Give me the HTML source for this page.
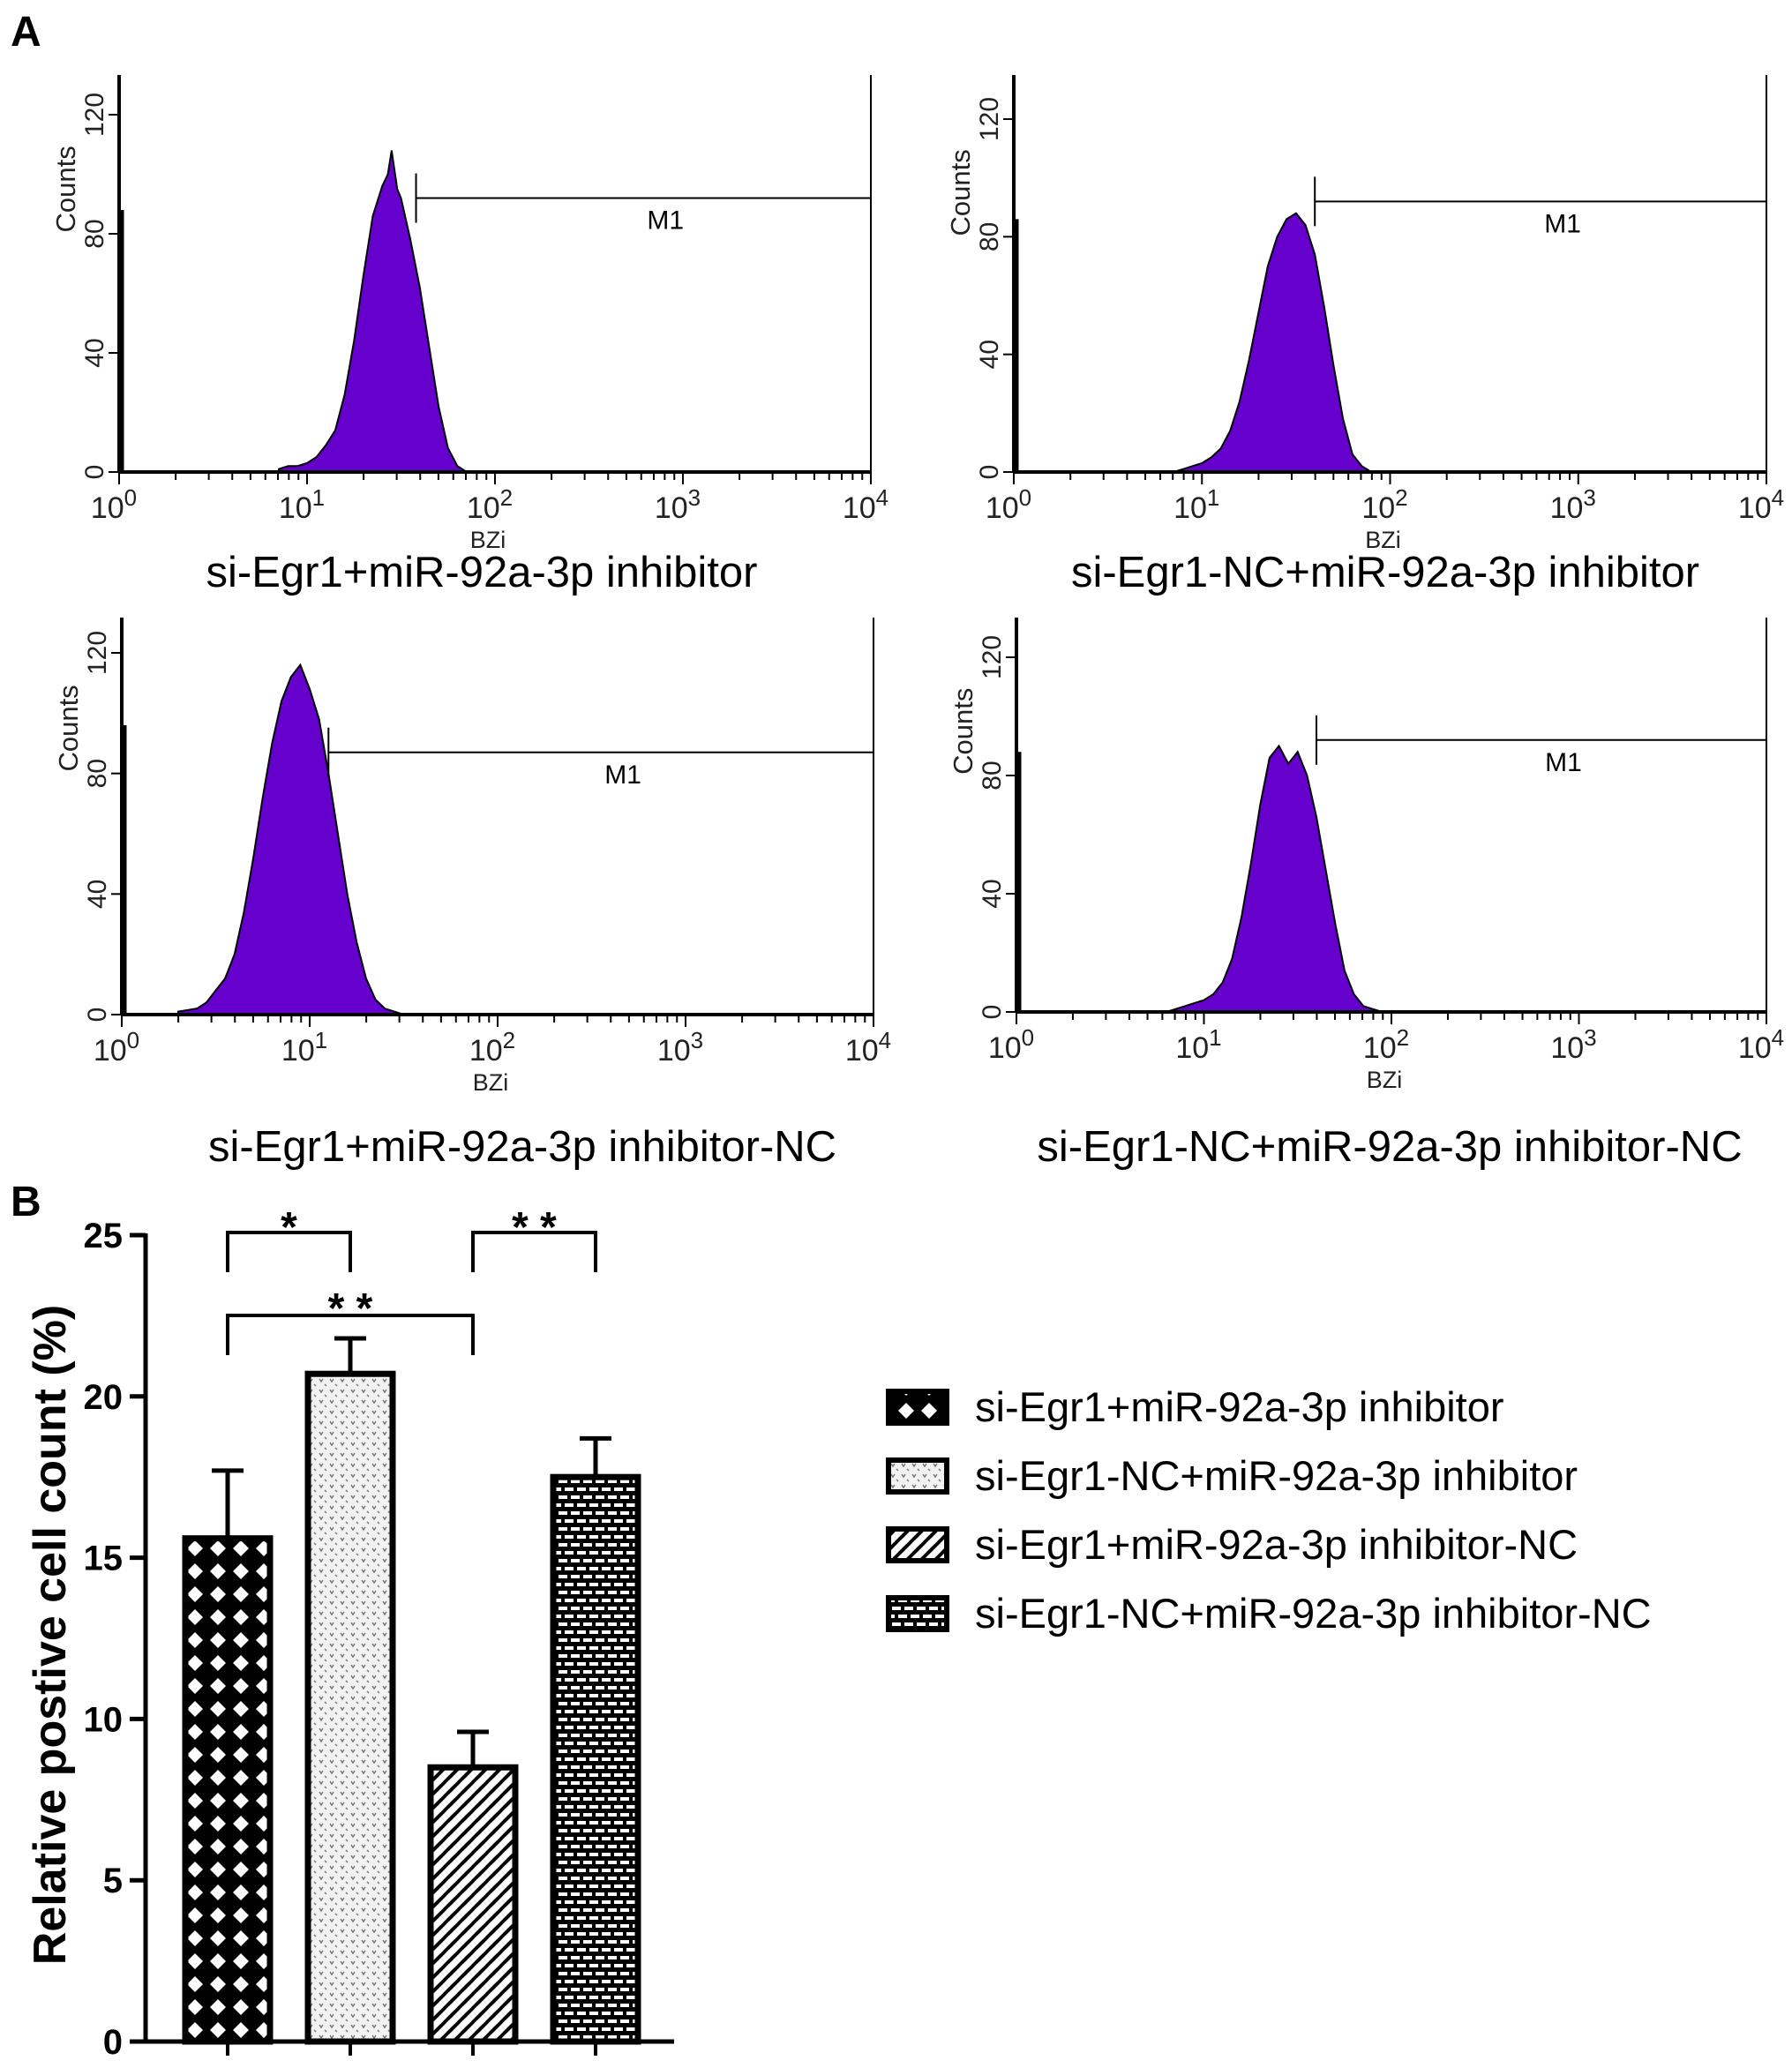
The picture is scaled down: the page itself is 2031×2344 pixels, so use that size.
<!DOCTYPE html>
<html><head><meta charset="utf-8"><style>
html,body{margin:0;padding:0;background:#fff;}
svg{display:block;font-family:"Liberation Sans",sans-serif;}
</style></head><body>
<svg id="fig" width="2031" height="2344" viewBox="0 0 2031 2344" xmlns="http://www.w3.org/2000/svg">
<defs>
<pattern id="pCross" width="26" height="26" patternUnits="userSpaceOnUse">
<rect width="26" height="26" fill="#000"/><polygon points="13,4 22,13 13,22 4,13" fill="#fff"/>
</pattern>
<pattern id="pDots" width="12" height="12" patternUnits="userSpaceOnUse">
<rect width="12" height="12" fill="#f2f2f2"/><path d="M2 3 l2 3 l2 -3 M8 9 l2 2" stroke="#777" stroke-width="1.5" fill="none"/>
</pattern>
<pattern id="pDiag" width="16" height="16" patternUnits="userSpaceOnUse">
<rect width="16" height="16" fill="#fff"/><path d="M-4 16 L16 -4 M4 24 L24 4" stroke="#000" stroke-width="4"/>
</pattern>
<pattern id="pBrick" width="28" height="18" patternUnits="userSpaceOnUse">
<rect width="28" height="18" fill="#000"/><rect x="3" y="3" width="10" height="4" fill="#fff"/><rect x="17" y="3" width="10" height="4" fill="#fff"/><rect x="-4" y="12" width="10" height="4" fill="#fff"/><rect x="10" y="12" width="10" height="4" fill="#fff"/><rect x="24" y="12" width="10" height="4" fill="#fff"/>
</pattern>
</defs>
<text x="12" y="52" font-size="48" font-weight="bold">A</text>
<text x="12" y="1378" font-size="48" font-weight="bold">B</text>
<g id="hists"></g>
<g id="bars"></g>
</svg>
<script>
// ---- Histogram data (log10 BZi, counts) ----
const h1x=[0.85,0.9,0.95,1.0,1.05,1.1,1.15,1.2,1.25,1.3,1.35,1.4,1.43,1.45,1.48,1.5,1.55,1.6,1.65,1.7,1.75,1.8,1.85];
const h1y=[1,2,2,3,5,9,14,26,44,66,86,96,100,108,95,92,78,62,42,22,8,2,0];
const h2x=[0.85,0.9,0.95,1.0,1.05,1.1,1.15,1.2,1.25,1.3,1.35,1.4,1.45,1.5,1.55,1.6,1.65,1.7,1.75,1.8,1.85,1.9];
const h2y=[0,1,2,3,5,8,14,24,38,54,70,80,86,88,84,74,56,36,18,6,2,0];
const h3x=[0.3,0.4,0.45,0.5,0.55,0.6,0.65,0.7,0.75,0.8,0.85,0.9,0.95,1.0,1.05,1.1,1.15,1.2,1.25,1.3,1.35,1.4,1.5];
const h3y=[1,2,4,8,12,20,34,52,72,90,104,112,116,108,98,80,60,40,24,12,5,2,0];
const h4x=[0.8,0.9,0.95,1.0,1.05,1.1,1.15,1.2,1.25,1.3,1.35,1.4,1.45,1.5,1.55,1.6,1.65,1.7,1.75,1.8,1.85,1.9,1.95];
const h4y=[0,2,3,4,6,10,18,32,50,70,86,90,84,88,80,66,48,30,14,6,2,1,0];
const spikes=[88,86,96,88];
const tickLabels=["0","40","80","120"];
const titles=["si-Egr1+miR-92a-3p inhibitor","si-Egr1-NC+miR-92a-3p inhibitor","si-Egr1+miR-92a-3p inhibitor-NC","si-Egr1-NC+miR-92a-3p inhibitor-NC"];
const gates=[1.58,1.6,1.1,1.6];
const gateY=[92,92,87,92];

// ---- Bar chart data ----
const groups=["si-Egr1+miR-92a-3p inhibitor","si-Egr1-NC+miR-92a-3p inhibitor","si-Egr1+miR-92a-3p inhibitor-NC","si-Egr1-NC+miR-92a-3p inhibitor-NC"];
const means=[15.6,20.7,8.5,17.5];
const errs=[2.1,1.1,1.1,1.2];
const yTicks=[0,5,10,15,20,25];

const NS="http://www.w3.org/2000/svg";
function mk(tag,attrs,parent,text){const e=document.createElementNS(NS,tag);for(const k in attrs)e.setAttribute(k,attrs[k]);if(text!==undefined)e.textContent=text;parent.appendChild(e);return e;}

const hg=document.getElementById('hists');
const layouts=[
 {l:135,r:987,y0:535,y120:130,top:85,tx:546,ty:665},
 {l:1149,r:2002,y0:535,y120:135,top:85,tx:1570,ty:665},
 {l:138,r:990,y0:1150,y120:740,top:700,tx:592,ty:1316},
 {l:1152,r:2002,y0:1147,y120:745,top:700,tx:1575,ty:1316}];
const HX=[h1x,h2x,h3x,h4x],HY=[h1y,h2y,h3y,h4y];
layouts.forEach((L,i)=>{
 const g=mk('g',{},hg);
 
 
 const X=v=>L.l+(L.r-L.l)*v/4, Y=c=>L.y0-(L.y0-L.y120)*c/120;
 let d='M'+X(HX[i][0])+' '+L.y0;
 HX[i].forEach((x,j)=>{d+=' L'+X(x)+' '+Y(HY[i][j]);});
 d+=' L'+X(HX[i][HX[i].length-1])+' '+L.y0+' Z';
 const p=mk('path',{d:d,fill:'#6600cc',stroke:'#000','stroke-width':2},g);
 
 
 mk('line',{x1:L.l+3,x2:L.l+3,y1:L.y0,y2:Y(spikes[i]),stroke:'#000','stroke-width':5},g);
 mk('line',{x1:L.l,x2:L.l,y1:L.top,y2:L.y0,stroke:'#000','stroke-width':4},g);
 mk('line',{x1:L.r,x2:L.r,y1:L.top,y2:L.y0,stroke:'#000','stroke-width':2},g);
 mk('line',{x1:L.l,x2:L.r,y1:L.y0,y2:L.y0,stroke:'#000','stroke-width':4},g);
 for(let dec=0;dec<4;dec++)for(let m=1;m<10;m++){const x=X(dec+Math.log10(m));mk('line',{x1:x,x2:x,y1:L.y0,y2:L.y0+(m==1?14:9),stroke:'#000','stroke-width':2},g);}
 mk('line',{x1:L.r,x2:L.r,y1:L.y0,y2:L.y0+14,stroke:'#000','stroke-width':2},g);
 for(let dec=0;dec<=4;dec++){const t=mk('text',{x:X(dec)-6,y:L.y0+52,'font-size':34,'text-anchor':'middle',fill:'#222'},g,'10');mk('tspan',{dy:-14,'font-size':26},t,String(dec));}
 mk('text',{x:(L.l+L.r)/2-8,y:L.y0+86,'font-size':27,'text-anchor':'middle',fill:'#222'},g,'BZi');
 tickLabels.forEach((lab,k)=>{const c=+lab,y=Y(c);mk('line',{x1:L.l-12,x2:L.l,y1:y,y2:y,stroke:'#000','stroke-width':2},g);mk('text',{x:L.l-18,y:y,'font-size':30,'text-anchor':'middle',fill:'#222',transform:'rotate(-90 '+(L.l-18)+' '+y+')'},g,lab);});
 mk('text',{x:L.l-50,y:Y(95),'font-size':31,'text-anchor':'middle',fill:'#222',transform:'rotate(-90 '+(L.l-50)+' '+Y(95)+')'},g,'Counts');
 const gx=X(gates[i]),gy=Y(gateY[i]);
 mk('line',{x1:gx,x2:L.r,y1:gy,y2:gy,stroke:'#000','stroke-width':2},g);
 mk('line',{x1:gx,x2:gx,y1:gy-28,y2:gy+28,stroke:'#000','stroke-width':2},g);
 mk('text',{x:(gx+L.r)/2+25,y:gy+35,'font-size':30,'text-anchor':'middle'},g,'M1');
 const tt=mk('text',{x:L.tx,y:L.ty,'font-size':49,'text-anchor':'middle'},g,titles[i]);
 
 
});

// ---- Bar chart ----
const bg=document.getElementById('bars');
const AX=165,AY0=2314,PPU=36.56,BW=96,X0=258,STEP=139;
const by=v=>AY0-v*PPU, bx=i=>X0+i*STEP;
const pats=['url(#pCross)','url(#pDots)','url(#pDiag)','url(#pBrick)'];
means.forEach((v,i)=>{
 const top=by(v+errs[i]);
 mk('line',{x1:bx(i),x2:bx(i),y1:by(v),y2:top,stroke:'#000','stroke-width':5},bg);
 mk('line',{x1:bx(i)-18,x2:bx(i)+18,y1:top,y2:top,stroke:'#000','stroke-width':5},bg);
 const r=mk('rect',{x:bx(i)-BW/2,y:by(v),width:BW,height:v*PPU,fill:pats[i],stroke:'#000','stroke-width':7},bg);
 
 
 mk('line',{x1:bx(i),x2:bx(i),y1:AY0,y2:AY0+16,stroke:'#000','stroke-width':4},bg);
});
mk('line',{x1:AX,x2:AX,y1:by(25)-2,y2:AY0+2,stroke:'#000','stroke-width':5},bg);
mk('line',{x1:AX,x2:764,y1:AY0,y2:AY0,stroke:'#000','stroke-width':5},bg);
yTicks.forEach(t=>{const y=by(t);mk('line',{x1:AX-18,x2:AX,y1:y,y2:y,stroke:'#000','stroke-width':5},bg);mk('text',{x:AX-26,y:y+14,'font-size':40,'font-weight':'bold','text-anchor':'end'},bg,String(t));});
const yl=mk('text',{x:74,y:1853,'font-size':52,'font-weight':'bold','text-anchor':'middle',transform:'rotate(-90 74 1853)'},bg,'Relative postive cell count (%)');


function bracket(i,j,y,leg,label,ly){
 mk('path',{d:'M'+bx(i)+' '+(y+leg)+' V'+y+' H'+bx(j)+' V'+(y+leg),fill:'none',stroke:'#000','stroke-width':4},bg);
 mk('text',{x:(bx(i)+bx(j))/2,y:ly,'font-size':48,'font-weight':'bold','text-anchor':'middle'},bg,label);
}
bracket(0,1,1397,45,'*',1407);
bracket(2,3,1397,45,'*   *',1407);
bracket(0,2,1491,45,'*   *',1499);
groups.forEach((gname,i)=>{
 const y=1577+i*78;
 const lg=mk('g',{},bg);
 
 
 mk('rect',{x:1007,y:y,width:66,height:36,fill:pats[i],stroke:'#000','stroke-width':6},lg);
 mk('text',{x:1105,y:y+34,'font-size':47},lg,gname);
});
</script>
</body></html>
